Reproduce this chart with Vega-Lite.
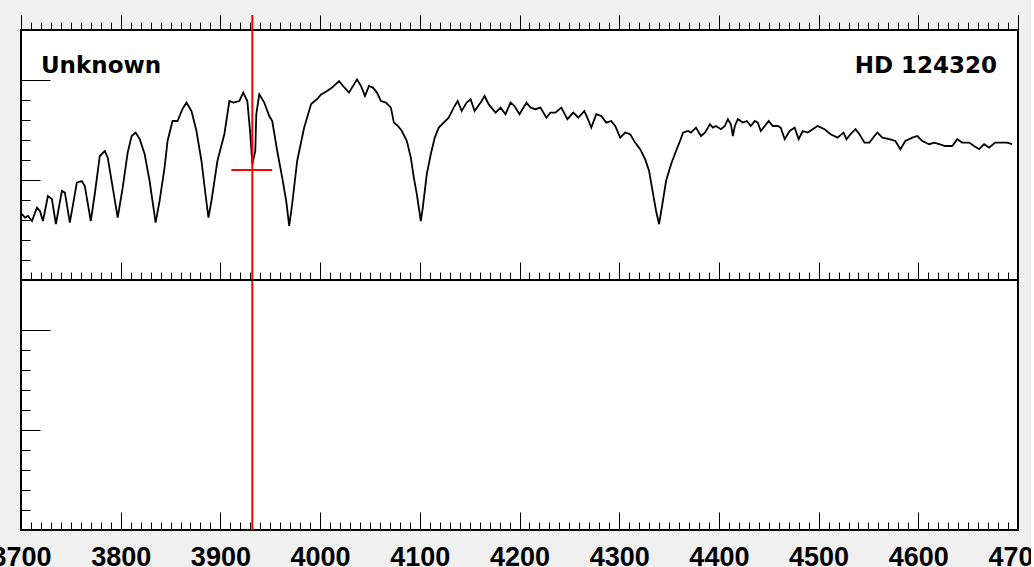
{
  "$schema": "https://vega.github.io/schema/vega-lite/v6.json",
  "background": "#f0f0f0",
  "padding": {"left": -10, "top": 13, "right": -18, "bottom": -6},
  "width": 997,
  "height": 500,
  "config": {
    "view": {"stroke": "black", "strokeWidth": 2, "fill": "white"},
    "axis": {"domain": false, "grid": false, "title": null, "tickColor": "black", "tickWidth": 1, "labelOverlap": false, "labelBound": false, "labelFlush": false}
  },
  "datasets": {
    "spectrum": [
      {"w":3701,"f":0.329},{"w":3704,"f":0.312},{"w":3707,"f":0.320},{"w":3711,"f":0.295},{"w":3716,"f":0.362},{"w":3719,"f":0.345},{"w":3722,"f":0.295},{"w":3727,"f":0.420},{"w":3731,"f":0.405},{"w":3735,"f":0.280},{"w":3741,"f":0.445},{"w":3744,"f":0.437},{"w":3749,"f":0.287},{"w":3756,"f":0.487},{"w":3761,"f":0.495},{"w":3764,"f":0.470},{"w":3770,"f":0.295},{"w":3774,"f":0.430},{"w":3779,"f":0.620},{"w":3784,"f":0.645},{"w":3787,"f":0.612},{"w":3792,"f":0.462},{"w":3797,"f":0.312},{"w":3802,"f":0.462},{"w":3807,"f":0.637},{"w":3811,"f":0.720},{"w":3815,"f":0.737},{"w":3819,"f":0.705},{"w":3824,"f":0.630},{"w":3829,"f":0.495},{"w":3835,"f":0.287},{"w":3839,"f":0.395},{"w":3844,"f":0.562},{"w":3847,"f":0.695},{"w":3852,"f":0.795},{"w":3857,"f":0.795},{"w":3862,"f":0.855},{"w":3866,"f":0.887},{"w":3871,"f":0.845},{"w":3876,"f":0.745},{"w":3881,"f":0.595},{"w":3885,"f":0.430},{"w":3888,"f":0.312},{"w":3891,"f":0.395},{"w":3897,"f":0.595},{"w":3904,"f":0.730},{"w":3909,"f":0.895},{"w":3913,"f":0.887},{"w":3919,"f":0.895},{"w":3923,"f":0.937},{"w":3927,"f":0.895},{"w":3930,"f":0.730},{"w":3932,"f":0.578},{"w":3935,"f":0.645},{"w":3936,"f":0.830},{"w":3939,"f":0.928},{"w":3944,"f":0.887},{"w":3949,"f":0.820},{"w":3952,"f":0.795},{"w":3957,"f":0.645},{"w":3962,"f":0.512},{"w":3966,"f":0.395},{"w":3969,"f":0.270},{"w":3972,"f":0.380},{"w":3977,"f":0.595},{"w":3984,"f":0.762},{"w":3991,"f":0.880},{"w":3997,"f":0.905},{"w":4001,"f":0.928},{"w":4007,"f":0.945},{"w":4012,"f":0.962},{"w":4019,"f":0.995},{"w":4023,"f":0.970},{"w":4029,"f":0.937},{"w":4032,"f":0.962},{"w":4037,"f":1.003},{"w":4041,"f":0.970},{"w":4045,"f":0.920},{"w":4049,"f":0.970},{"w":4053,"f":0.962},{"w":4057,"f":0.937},{"w":4061,"f":0.895},{"w":4066,"f":0.887},{"w":4071,"f":0.862},{"w":4074,"f":0.787},{"w":4078,"f":0.770},{"w":4082,"f":0.745},{"w":4087,"f":0.695},{"w":4091,"f":0.612},{"w":4094,"f":0.512},{"w":4097,"f":0.429},{"w":4101,"f":0.295},{"w":4103,"f":0.362},{"w":4107,"f":0.529},{"w":4111,"f":0.629},{"w":4115,"f":0.712},{"w":4119,"f":0.762},{"w":4124,"f":0.787},{"w":4129,"f":0.812},{"w":4134,"f":0.862},{"w":4138,"f":0.895},{"w":4142,"f":0.845},{"w":4147,"f":0.887},{"w":4151,"f":0.904},{"w":4155,"f":0.845},{"w":4161,"f":0.887},{"w":4165,"f":0.920},{"w":4169,"f":0.879},{"w":4176,"f":0.837},{"w":4181,"f":0.862},{"w":4186,"f":0.829},{"w":4191,"f":0.887},{"w":4195,"f":0.870},{"w":4200,"f":0.829},{"w":4207,"f":0.887},{"w":4211,"f":0.862},{"w":4216,"f":0.854},{"w":4221,"f":0.862},{"w":4227,"f":0.812},{"w":4231,"f":0.837},{"w":4236,"f":0.837},{"w":4242,"f":0.862},{"w":4248,"f":0.804},{"w":4254,"f":0.837},{"w":4259,"f":0.812},{"w":4265,"f":0.845},{"w":4268,"f":0.812},{"w":4272,"f":0.762},{"w":4277,"f":0.829},{"w":4282,"f":0.820},{"w":4287,"f":0.787},{"w":4292,"f":0.795},{"w":4296,"f":0.770},{"w":4301,"f":0.712},{"w":4306,"f":0.737},{"w":4311,"f":0.729},{"w":4316,"f":0.687},{"w":4321,"f":0.654},{"w":4326,"f":0.604},{"w":4330,"f":0.545},{"w":4334,"f":0.429},{"w":4337,"f":0.345},{"w":4340,"f":0.279},{"w":4343,"f":0.370},{"w":4347,"f":0.495},{"w":4352,"f":0.579},{"w":4357,"f":0.645},{"w":4361,"f":0.695},{"w":4364,"f":0.737},{"w":4369,"f":0.745},{"w":4372,"f":0.737},{"w":4377,"f":0.762},{"w":4382,"f":0.720},{"w":4386,"f":0.737},{"w":4391,"f":0.779},{"w":4394,"f":0.762},{"w":4397,"f":0.770},{"w":4402,"f":0.754},{"w":4406,"f":0.770},{"w":4409,"f":0.804},{"w":4412,"f":0.779},{"w":4414,"f":0.720},{"w":4416,"f":0.770},{"w":4419,"f":0.804},{"w":4424,"f":0.787},{"w":4428,"f":0.795},{"w":4432,"f":0.770},{"w":4436,"f":0.795},{"w":4439,"f":0.787},{"w":4442,"f":0.745},{"w":4446,"f":0.770},{"w":4450,"f":0.795},{"w":4454,"f":0.770},{"w":4459,"f":0.770},{"w":4462,"f":0.762},{"w":4466,"f":0.704},{"w":4471,"f":0.745},{"w":4476,"f":0.762},{"w":4480,"f":0.704},{"w":4484,"f":0.745},{"w":4489,"f":0.737},{"w":4494,"f":0.754},{"w":4499,"f":0.770},{"w":4506,"f":0.754},{"w":4512,"f":0.729},{"w":4519,"f":0.712},{"w":4525,"f":0.737},{"w":4528,"f":0.704},{"w":4532,"f":0.729},{"w":4537,"f":0.754},{"w":4541,"f":0.729},{"w":4546,"f":0.687},{"w":4551,"f":0.687},{"w":4556,"f":0.720},{"w":4559,"f":0.737},{"w":4564,"f":0.712},{"w":4571,"f":0.704},{"w":4577,"f":0.695},{"w":4582,"f":0.654},{"w":4587,"f":0.695},{"w":4594,"f":0.712},{"w":4599,"f":0.720},{"w":4604,"f":0.695},{"w":4611,"f":0.679},{"w":4616,"f":0.687},{"w":4621,"f":0.679},{"w":4627,"f":0.670},{"w":4634,"f":0.670},{"w":4639,"f":0.704},{"w":4644,"f":0.687},{"w":4651,"f":0.687},{"w":4656,"f":0.670},{"w":4661,"f":0.654},{"w":4666,"f":0.679},{"w":4671,"f":0.662},{"w":4677,"f":0.687},{"w":4684,"f":0.687},{"w":4689,"f":0.687},{"w":4694,"f":0.679}
    ],
    "cursor": [{"w": 3932}],
    "cross": [{"w1": 3911, "w2": 3952, "f": 0.55}],
    "leftLabel": [{"w": 3720, "f": 1.0365, "t": "Unknown"}],
    "rightLabel": [{"w": 4679, "f": 1.0365, "t": "HD 124320"}]
  },
  "resolve": {"axis": {"x": "independent"}},
  "layer": [
    {
      "data": {"name": "spectrum"},
      "mark": {"type": "line", "color": "black", "strokeWidth": 1.8},
      "encoding": {
        "x": {"field": "w", "type": "quantitative", "scale": {"domain": [3700, 4700], "nice": false, "zero": false},
          "axis": {"orient": "bottom", "offset": -250, "labels": false, "tickCount": 500,
            "values": [3700,3710,3720,3730,3740,3750,3760,3770,3780,3790,3800,3810,3820,3830,3840,3850,3860,3870,3880,3890,3900,3910,3920,3930,3940,3950,3960,3970,3980,3990,4000,4010,4020,4030,4040,4050,4060,4070,4080,4090,4100,4110,4120,4130,4140,4150,4160,4170,4180,4190,4200,4210,4220,4230,4240,4250,4260,4270,4280,4290,4300,4310,4320,4330,4340,4350,4360,4370,4380,4390,4400,4410,4420,4430,4440,4450,4460,4470,4480,4490,4500,4510,4520,4530,4540,4550,4560,4570,4580,4590,4600,4610,4620,4630,4640,4650,4660,4670,4680,4690,4700],
            "tickSize": {"condition": {"test": "datum.value % 100 === 0", "value": -18}, "value": -8}}},
        "y": {"field": "f", "type": "quantitative", "scale": {"domain": [-1.25, 1.25], "nice": false, "zero": false},
          "axis": {"orient": "left", "labels": false, "tickCount": 500,
            "values": [1.0,0.9,0.8,0.7,0.6,0.5,0.4,0.3,0.2,0.1,-0.25,-0.35,-0.45,-0.55,-0.65,-0.75,-0.85,-0.95,-1.05,-1.15],
            "tickSize": {"condition": [{"test": "abs(datum.value - 1) < 0.001 || abs(datum.value + 0.25) < 0.001", "value": -29}, {"test": "abs(datum.value - 0.5) < 0.001 || abs(datum.value + 0.75) < 0.001", "value": -19}], "value": -9}}}
      }
    },
    {
      "data": {"name": "cursor"},
      "mark": {"type": "rule", "color": "#ff0000", "strokeWidth": 2},
      "encoding": {
        "x": {"field": "w", "type": "quantitative",
          "axis": {"orient": "top", "labels": false, "tickCount": 500,
            "values": [3700,3710,3720,3730,3740,3750,3760,3770,3780,3790,3800,3810,3820,3830,3840,3850,3860,3870,3880,3890,3900,3910,3920,3930,3940,3950,3960,3970,3980,3990,4000,4010,4020,4030,4040,4050,4060,4070,4080,4090,4100,4110,4120,4130,4140,4150,4160,4170,4180,4190,4200,4210,4220,4230,4240,4250,4260,4270,4280,4290,4300,4310,4320,4330,4340,4350,4360,4370,4380,4390,4400,4410,4420,4430,4440,4450,4460,4470,4480,4490,4500,4510,4520,4530,4540,4550,4560,4570,4580,4590,4600,4610,4620,4630,4640,4650,4660,4670,4680,4690,4700],
            "tickSize": {"condition": {"test": "datum.value % 100 === 0", "value": 15}, "value": 8}}},
        "y": {"datum": -1.25},
        "y2": {"datum": 1.325}
      }
    },
    {
      "data": {"name": "cross"},
      "mark": {"type": "rule", "color": "black", "strokeWidth": 2},
      "encoding": {
        "x": {"datum": 3700, "type": "quantitative", "axis": null},
        "x2": {"datum": 4700},
        "y": {"datum": 0}
      }
    },
    {
      "data": {"name": "cross"},
      "mark": {"type": "rule", "color": "#ff0000", "strokeWidth": 2},
      "encoding": {
        "x": {"field": "w1", "type": "quantitative",
          "axis": {"orient": "bottom", "labels": true, "format": "d", "tickCount": 500,
            "labelExpr": "datum.value % 100 === 0 ? datum.label : ''",
            "labelFont": "Liberation Sans", "labelFontWeight": "bold", "labelFontSize": 27, "labelColor": "black", "labelPadding": 32,
            "values": [3700,3710,3720,3730,3740,3750,3760,3770,3780,3790,3800,3810,3820,3830,3840,3850,3860,3870,3880,3890,3900,3910,3920,3930,3940,3950,3960,3970,3980,3990,4000,4010,4020,4030,4040,4050,4060,4070,4080,4090,4100,4110,4120,4130,4140,4150,4160,4170,4180,4190,4200,4210,4220,4230,4240,4250,4260,4270,4280,4290,4300,4310,4320,4330,4340,4350,4360,4370,4380,4390,4400,4410,4420,4430,4440,4450,4460,4470,4480,4490,4500,4510,4520,4530,4540,4550,4560,4570,4580,4590,4600,4610,4620,4630,4640,4650,4660,4670,4680,4690,4700],
            "tickSize": {"condition": {"test": "datum.value % 100 === 0", "value": -18}, "value": -8}}},
        "x2": {"field": "w2"},
        "y": {"field": "f", "type": "quantitative"}
      }
    },
    {
      "data": {"name": "leftLabel"},
      "mark": {"type": "text", "align": "left", "baseline": "alphabetic", "font": "DejaVu Sans", "fontWeight": "bold", "fontSize": 23, "color": "black"},
      "encoding": {
        "x": {"field": "w", "type": "quantitative", "axis": null},
        "y": {"field": "f", "type": "quantitative"},
        "text": {"field": "t"}
      }
    },
    {
      "data": {"name": "rightLabel"},
      "mark": {"type": "text", "align": "right", "baseline": "alphabetic", "font": "DejaVu Sans", "fontWeight": "bold", "fontSize": 23, "color": "black"},
      "encoding": {
        "x": {"field": "w", "type": "quantitative", "axis": null},
        "y": {"field": "f", "type": "quantitative"},
        "text": {"field": "t"}
      }
    }
  ]
}
